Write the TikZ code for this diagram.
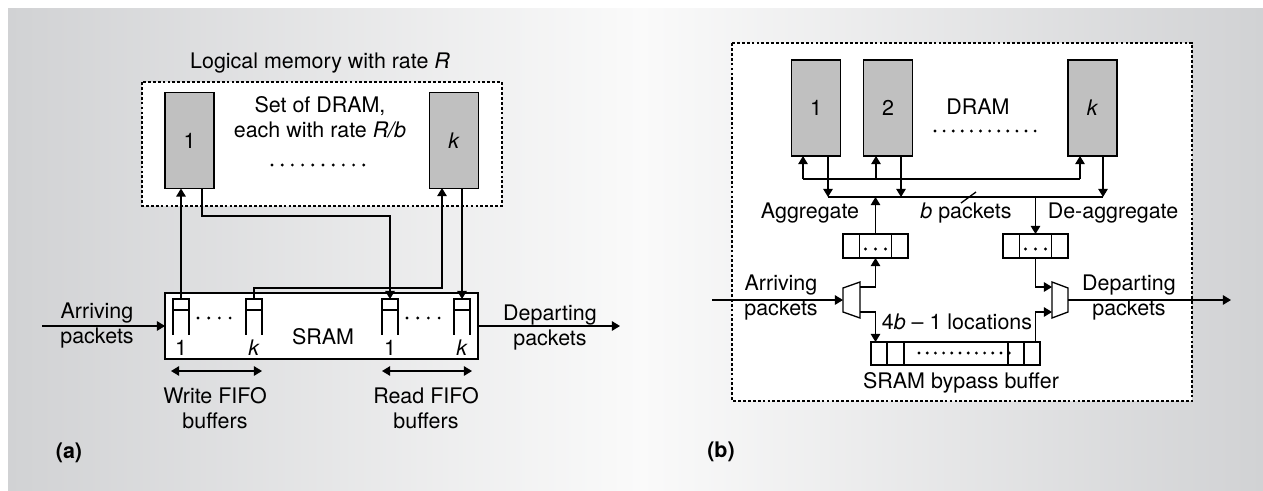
\documentclass[tikz,border=0pt]{standalone}
\usepackage{fontspec}
\setmainfont{TeX Gyre Heros}
\usetikzlibrary{arrows.meta}
\definecolor{bgdark}{RGB}{209,210,212}
\definecolor{bglight}{RGB}{250,250,250}
\definecolor{dramgray}{RGB}{192,192,192}

\begin{document}
\begin{tikzpicture}[x=0.02cm, y=-0.02cm, line width=0.75pt,
    >={Triangle[length=4.6pt,width=5.4pt]},
    every node/.style={font=\fontsize{12.2}{14.3}\selectfont, inner sep=0pt, outer sep=0pt},
    dram/.style={draw, fill=dramgray, minimum width=0.98cm, minimum height=1.92cm},
    fifocap/.style={draw, fill=white, minimum width=0.32cm, minimum height=0.22cm},
    cellbuf/.style={draw, fill=white, minimum width=1.3cm, minimum height=0.48cm},
    frame/.style={dash pattern=on 1.6pt off 1.2pt, fill=white},
    tag/.style={font=\fontsize{12.2}{14.3}\selectfont\bfseries}]
    \useasboundingbox (0,0) rectangle (1263,490);
    % background
    \shade[left color=bgdark, right color=bglight] (8,8) rectangle (640,490);
    \shade[left color=bglight, right color=bgdark] (640,8) rectangle (1263,490);

    % (a) logical memory built from DRAM and SRAM
    \begin{scope}
        \node (ttl) at (320,63) {Logical memory with rate \textit{R}};
        \draw[frame] (142,82) rectangle (502,206);
        \node[dram] (d1) at (189.5,140.5) {1};
        \node[dram] (dk) at (454,140.5) {\textit{k}};
        \node[align=center] (dset) at (320,117.5) {Set of DRAM,\\each with rate \textit{R/b}};
        \foreach \i in {0,...,9} \fill (272+\i*10.2,165) circle (0.9pt);

        \node[draw, fill=white, minimum width=6.26cm, minimum height=1.32cm] (sram) at (321.5,326) {};
        \node (sramlbl) at (323,337) {SRAM};
        \foreach \n/\x in {w1/181, wk/254, r1/390, rk/462} {
            \node[fifocap] (\n) at (\x,304.5) {};
            \draw (\n.south west) -- ++(0,25) (\n.south east) -- ++(0,25);
        }
        \foreach \i in {0,...,3} {
            \fill (198+\i*10.7,318) circle (0.9pt);
            \fill (407+\i*10.7,318) circle (0.9pt);
        }
        \node (w1n) at (181,348) {1};
        \node (wkn) at (254,348) {\textit{k}};
        \node (r1n) at (390,348) {1};
        \node (rkn) at (462,348) {\textit{k}};

        % DRAM <-> FIFO connections
        \coordinate (dkin) at (442,188);
        \coordinate (d1out) at (202,188);
        \draw[->] (w1.north) -- (w1.north |- d1.south);
        \draw[->] (wk.north) -- ++(0,-11) -| (dkin);
        \draw[->] (d1out) -- ++(0,28) -| (r1.north);
        \draw[->] (dk.south -| rk.north) -- (rk.north);

        \coordinate (ain) at (42,326);
        \coordinate (aout) at (620,326);
        \draw[->] (ain) -- (sram.west);
        \draw[->] (sram.east) -- (aout);
        \node[align=center] (arrA) at (97,325.5) {Arriving\\packets};
        \node[align=center] (depA) at (550,327.5) {Departing\\packets};

        \coordinate (wl) at (171,371);
        \coordinate (wr) at (262,371);
        \coordinate (rl) at (382,371);
        \coordinate (rr) at (472,371);
        \draw[<->] (wl) -- (wr);
        \draw[<->] (rl) -- (rr);
        \node[align=center] (wfifo) at (215,408) {Write FIFO\\buffers};
        \node[align=center] (rfifo) at (426,408) {Read FIFO\\buffers};
        \node[tag] (tagA) at (69,453) {(a)};
    \end{scope}

    % (b) aggregation with SRAM bypass buffer
    \begin{scope}
        \draw[frame] (732,43) rectangle (1192,401);
        \node[dram] (m1) at (816,108) {1};
        \node[dram] (m2) at (888,108) {2};
        \node[dram] (mk) at (1092.5,108) {\textit{k}};
        \node (dramlbl) at (978,107) {DRAM};
        \foreach \i in {0,...,11} \fill (935+\i*9.1,131) circle (0.9pt);

        % write bus and read bus
        \coordinate (wbl) at (803,179);
        \coordinate (wb2) at (876,179);
        \coordinate (wbr) at (1080,179);
        \coordinate (rbl) at (828,197);
        \coordinate (rb2) at (901,197);
        \coordinate (rbr) at (1103,197);
        \draw (wbl) -- (wbr);
        \draw[->] (wbl) -- (wbl |- m1.south);
        \draw[->] (wb2) -- (wb2 |- m2.south);
        \draw[->] (wbr) -- (wbr |- mk.south);
        \draw (rbl) -- (rbr);
        \draw[->] (rbl |- m1.south) -- (rbl);
        \draw[->] (rb2 |- m2.south) -- (rb2);
        \draw[->] (rbr |- mk.south) -- (rbr);
        \draw (961,203) -- (976,192);

        \node (aggl) at (810,213) {Aggregate};
        \node (bpk) at (966,213) {\textit{b} packets};
        \node (dagl) at (1113,213) {De-aggregate};

        \node[cellbuf] (agg) at (875.5,246) {};
        \node[cellbuf] (dag) at (1035.5,246) {};
        \foreach \x in {859.5,891.5,1019.5,1051.5} \draw (\x,234) -- (\x,258);
        \foreach \i in {-1,0,1} {
            \fill (875.5+\i*10,249) circle (0.9pt);
            \fill (1035.5+\i*10,249) circle (0.9pt);
        }
        \draw[->] (agg.north) -- (agg.north |- rbl);
        \draw[->] (dag.north |- rbl) -- (dag.north);

        % demux and mux
        \draw[fill=white] (843,288) -- (860,282) -- (860,318) -- (843,312) -- cycle;
        \draw[fill=white] (1052,282) -- (1068,288) -- (1068,312) -- (1052,318) -- cycle;
        \coordinate (dmxin) at (843,300);
        \coordinate (dmxa) at (860,287);
        \coordinate (dmxb) at (860,312);
        \coordinate (muxa) at (1052,287);
        \coordinate (muxb) at (1052,312);
        \coordinate (muxout) at (1068,300);

        \node[draw, fill=white, minimum width=3.38cm, minimum height=0.46cm] (byp) at (955.5,353.5) {};
        \foreach \x in {887,904,1008,1024} \draw (\x,342) -- (\x,365);
        \foreach \i in {0,...,11} \fill (919+\i*8.2,353) circle (0.9pt);
        \node (bypl) at (961,383) {SRAM bypass buffer};
        \node (locl) at (957,322) {4\textit{b} -- 1 locations};

        \coordinate (bin) at (712,300);
        \coordinate (bout) at (1231,300);
        \draw[->] (bin) -- (dmxin);
        \draw[->] (dmxa) -| (agg.south);
        \draw[->] (dmxb) -| (agg.south |- byp.north);
        \draw[->] (dag.south) |- (muxa);
        \draw[->] (dag.south |- byp.north) |- (muxb);
        \draw[->] (muxout) -- (bout);
        \node[align=center] (arrB) at (781,297.5) {Arriving\\packets};
        \node[align=center] (depB) at (1129,297.5) {Departing\\packets};
        \node[tag] (tagB) at (721,452) {(b)};
    \end{scope}
\end{tikzpicture}
\end{document}
